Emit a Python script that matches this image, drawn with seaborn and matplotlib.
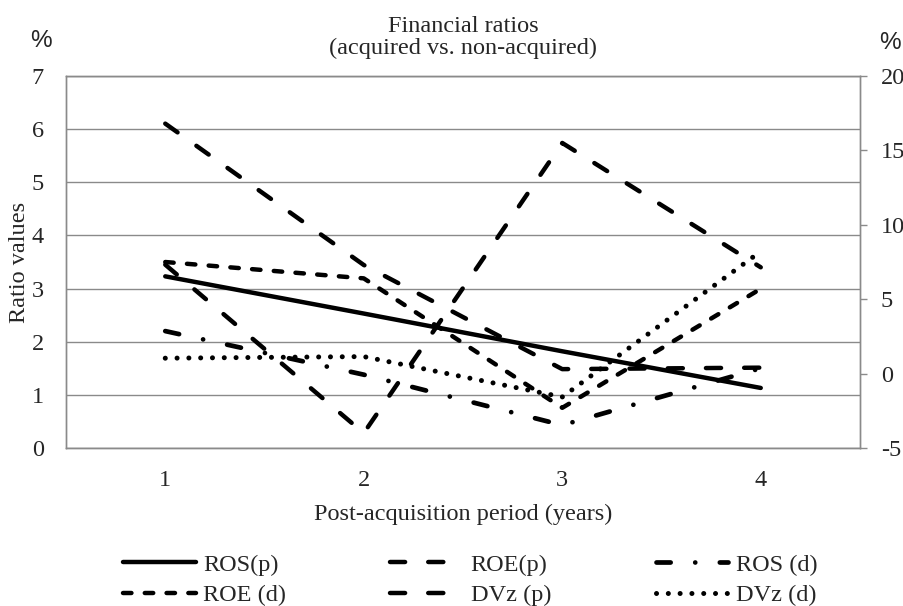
import numpy as np
import pandas as pd
import matplotlib
matplotlib.use("Agg")
import matplotlib.pyplot as plt
import seaborn as sns

# ── Data ─────────────────────────────────────────────────────────────────────
years = [1, 2, 3, 4]
ros_p = [3.23, 2.53, 1.82, 1.13]    # left axis
ros_d = [2.20, 1.38, 0.43, 1.50]    # left axis
dvz_p = [3.45, 0.28, 5.74, 3.40]    # left axis
dvz_d = [1.69, 1.72, 0.96, 3.70]    # left axis
roe_p = [16.8, 7.3, 0.3, 0.4]       # right axis (%)
roe_d = [7.5, 6.4, -2.3, 5.7]       # right axis (%)

left_ticks = [0, 1, 2, 3, 4, 5, 6, 7]
right_ticks = [-5, 0, 5, 10, 15, 20]

title = "Financial ratios\n(acquired vs. non-acquired)"
xlabel = "Post-acquisition period (years)"
ylabel = "Ratio values"

df = pd.DataFrame({
    "year": years,
    "ROS(p)": ros_p, "ROE(p)": roe_p, "ROS (d)": ros_d,
    "ROE (d)": roe_d, "DVz (p)": dvz_p, "DVz (d)": dvz_d,
})

sns.set_style("white")
plt.rcParams["font.family"] = ["Liberation Serif", "DejaVu Serif"]
plt.rcParams["axes.unicode_minus"] = False
FS = 17.5
GREY = "#8a8a8a"
LW = 3.2

fig = plt.figure(figsize=(9.04, 6.06), dpi=100)
ax = fig.add_axes([66 / 904, 1 - 448 / 606, 794 / 904, 372 / 606])
ax2 = ax.twinx()

# series -> (axis, linestyle, width)
styles = {
    "ROS(p)": (ax, "-", LW),
    "ROE(p)": (ax2, (0, (3.4, 5.2)), LW),
    "ROS (d)": (ax, (0, (3.0, 5.2, 0.01, 5.2)), 3.4),
    "ROE (d)": (ax2, (0, (1.9, 3.0)), LW),
    "DVz (p)": (ax, (0, (3.4, 5.2)), LW),
    "DVz (d)": (ax, (0, (0.01, 2.35)), 3.6),
}

handles = {}
for name, (target, ls, w) in styles.items():
    sns.lineplot(data=df, x="year", y=name, ax=target, color="black",
                 lw=w, linestyle=ls, dash_capstyle="round",
                 solid_capstyle="round", errorbar=None, legend=False)
    handles[name] = target.lines[-1]

# ── Axes styling ─────────────────────────────────────────────────────────────
ax.set_xlim(0.5, 4.5)
ax.set_xticks(years)
ax.set_ylim(0, 7)
ax.set_yticks(left_ticks)
ax2.set_ylim(-5, 20)
ax2.set_yticks(right_ticks)

ax.yaxis.grid(True, color=GREY, lw=1.0)
ax.set_axisbelow(True)
for a in (ax, ax2):
    for s in a.spines.values():
        s.set_color(GREY)
        s.set_linewidth(1.0)

ax.tick_params(axis="y", length=0, labelsize=FS, pad=16)
ax.tick_params(axis="x", length=0, labelsize=FS, pad=16)
ax2.tick_params(axis="y", length=5, width=1.0, color=GREY, direction="out",
                labelsize=FS, pad=10)

ax.set_xlabel(xlabel, fontsize=FS, labelpad=9)
ax.set_ylabel(ylabel, fontsize=FS)
ax.yaxis.set_label_coords(-0.045, 0.5)
ax2.set_ylabel("")
ax.set_title(title, fontsize=FS, pad=16, linespacing=1.05)

fig.text(41 / 904, 1 - 41 / 606, "%", fontsize=FS, family="Liberation Sans",
         ha="center", va="center")
fig.text(890 / 904, 1 - 43 / 606, "%", fontsize=FS, family="Liberation Sans",
         ha="center", va="center")

# legend filled column by column, so order for row-wise reading
order = ["ROS(p)", "ROE (d)", "ROE(p)", "DVz (p)", "ROS (d)", "DVz (d)"]
fig.legend([handles[k] for k in order], order, loc="center",
           bbox_to_anchor=(470 / 904, 1 - 580 / 606), ncol=3, frameon=False,
           fontsize=FS, handlelength=3.0, handletextpad=0.3,
           columnspacing=4.3, labelspacing=0.35)

fig.savefig("out.png", dpi=100)
